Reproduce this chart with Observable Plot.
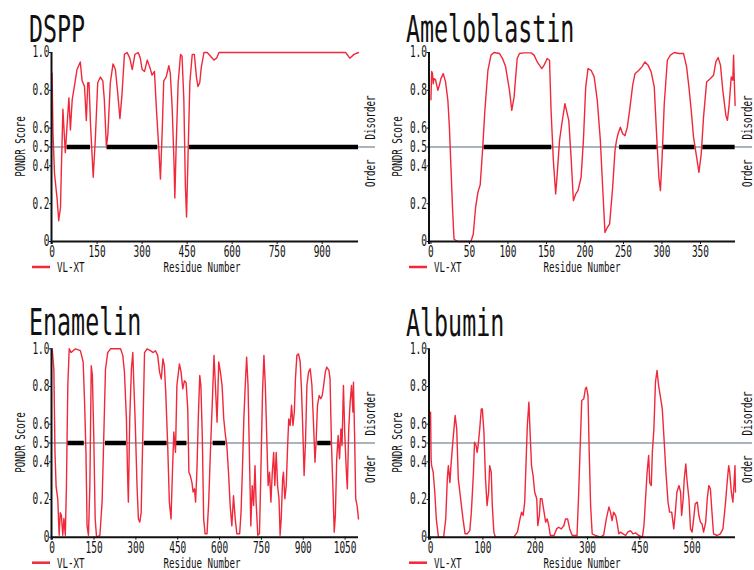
<!DOCTYPE html>
<html><head><meta charset="utf-8">
<script src="https://cdn.jsdelivr.net/npm/d3@7"></script>
<script src="https://cdn.jsdelivr.net/npm/@observablehq/plot@0.6"></script>
<style>
body{margin:0;background:#fff;}
#wrap{position:relative;width:754px;height:570px;background:#fff;overflow:hidden;}
.panel{position:absolute;width:377px;height:285px;}
</style></head><body><div id="wrap"></div>
<script>
// ---------- data ----------
const yTicks = [0, 0.2, 0.4, 0.5, 0.6, 0.8, 1.0];
const yLabels = ["0", "0.2", "0.4", "0.5", "0.6", "0.8", "1.0"];

const dsppTicks = [0, 150, 300, 450, 600, 750, 900];
const dsppTickLabels = ["0", "150", "300", "450", "600", "750", "900"];
const dsppRes = [0,3,8,17,22,28,31,36,44,48,56,61,67,74,83,94,100,108,114,119,123,128,137,144,152,161,169,174,181,186,194,203,211,219,226,233,241,250,259,267,276,287,294,300,308,317,326,333,341,348,356,361,367,372,380,389,394,400,406,409,413,420,428,433,439,444,448,452,459,467,474,481,486,492,497,506,517,528,539,548,556,978,992,1006,1021];
const dsppScore = [0.89,0.57,0.36,0.22,0.11,0.18,0.39,0.70,0.47,0.57,0.76,0.59,0.75,0.82,0.91,0.95,0.85,0.82,0.64,0.84,0.84,0.62,0.34,0.54,0.84,0.87,0.85,0.75,0.50,0.57,0.84,0.94,0.91,0.78,0.65,0.78,0.99,1.0,0.97,0.91,0.99,1.0,0.97,0.91,0.90,0.96,0.92,0.88,0.90,0.69,0.48,0.33,0.59,0.85,0.87,0.93,0.89,0.71,0.43,0.23,0.48,0.84,0.99,0.98,0.75,0.30,0.13,0.39,0.84,0.99,0.99,0.87,0.82,0.84,0.92,1.0,1.0,0.98,0.96,0.97,1.0,1.0,0.97,0.99,1.0];
const dsppBarStart = [50, 183, 458];
const dsppBarEnd = [128, 352, 1021];

const ameloTicks = [0, 50, 100, 150, 200, 250, 300, 350];
const ameloTickLabels = ["0", "50", "100", "150", "200", "250", "300", "350"];
const ameloRes = [0,1,2,3,4,6,9,11,13,16,19,22,24,26,28,30,35,52,55,58,61,64,67,70,74,78,82,89,93,97,102,105,108,112,115,121,130,134,138,144,147,151,154,156,159,162,164,167,170,174,176,179,182,185,188,191,195,198,201,204,208,212,216,220,223,226,229,232,236,239,241,243,246,249,252,255,258,262,265,270,274,278,282,286,290,293,296,298,300,303,307,311,316,322,328,332,335,338,341,345,348,351,354,358,363,367,370,373,376,379,383,385,387,390,392,393,394,395];
const ameloScore = [0.75,0.90,0.89,0.835,0.862,0.855,0.80,0.827,0.862,0.888,0.845,0.747,0.605,0.393,0.181,0.012,0,0,0.04,0.18,0.26,0.30,0.48,0.69,0.906,0.986,1.0,0.995,0.968,0.924,0.80,0.694,0.765,0.968,0.995,0.998,0.998,0.986,0.95,0.915,0.933,0.968,0.959,0.694,0.428,0.251,0.358,0.535,0.623,0.729,0.694,0.641,0.446,0.216,0.251,0.269,0.34,0.535,0.818,0.915,0.906,0.871,0.747,0.535,0.287,0.048,0.074,0.092,0.287,0.481,0.535,0.57,0.605,0.57,0.56,0.605,0.694,0.827,0.888,0.906,0.924,0.95,0.933,0.897,0.818,0.57,0.34,0.269,0.428,0.729,0.959,0.986,1.0,0.995,0.995,0.924,0.818,0.694,0.552,0.446,0.366,0.464,0.658,0.844,0.862,0.88,0.95,0.973,0.933,0.80,0.667,0.641,0.712,0.871,0.853,0.986,0.844,0.72];
const ameloBarStart = [69, 245, 302, 353];
const ameloBarEnd = [157, 294, 343, 395];

const enamTicks = [0, 150, 300, 450, 600, 750, 900, 1050];
const enamTickLabels = ["0", "150", "300", "450", "600", "750", "900", "1050"];
const enamRes = [0,6,10,14,20,25,29,33,38,42,47,51,56,61,68,75,84,101,111,116,121,125,130,135,140,144,149,154,159,171,179,185,191,199,209,245,253,259,266,270,273,278,284,289,292,298,304,309,314,319,326,331,340,352,362,370,378,385,391,397,402,407,414,420,426,431,436,442,447,456,462,468,474,480,486,490,495,501,505,510,514,519,524,529,533,538,543,548,555,561,567,574,580,585,591,597,603,609,615,621,626,632,638,644,650,656,662,672,677,682,687,692,697,702,708,712,717,722,727,731,737,743,748,754,759,764,770,774,779,784,789,794,798,803,808,813,817,821,826,829,834,839,844,848,853,858,863,868,872,877,883,889,894,899,903,908,913,919,925,931,937,942,946,951,957,963,968,973,979,984,992,996,1001,1006,1011,1015,1020,1025,1030,1035,1039,1044,1049,1054,1058,1063,1068,1073,1078,1080,1084,1088,1093,1098];
const enamScore = [1.0,0.89,0.45,0.27,0.20,0.01,0.13,0.115,0.01,0.10,0.01,0.27,0.805,1.0,0.98,0.99,1.0,0.99,0.93,0.72,0.45,0.06,0.01,0.27,0.91,0.86,0.54,0.10,0.0,0.01,0.19,0.54,0.89,0.98,1.0,1.0,0.965,0.876,0.63,0.345,0.186,0.63,0.894,0.98,0.84,0.593,0.274,0.097,0.08,0.13,0.63,0.98,1.0,0.99,0.98,0.99,0.965,0.876,0.84,0.947,0.91,0.77,0.487,0.186,0.097,0.345,0.558,0.45,0.805,0.92,0.876,0.788,0.83,0.82,0.68,0.345,0.327,0.29,0.24,0.257,0.186,0.363,0.646,0.858,0.805,0.54,0.097,0.018,0.018,0.186,0.45,0.717,0.965,0.805,0.61,0.93,0.876,0.805,0.628,0.54,0.487,0.345,0.168,0.06,0.22,0.097,0.018,0.018,0.133,0.363,0.628,0.805,0.956,0.805,0.363,0.06,0.274,0.168,0.38,0.186,0.01,0.018,0.345,0.77,0.965,0.805,0.487,0.274,0.345,0.186,0.345,0.45,0.274,0.45,0.274,0.204,0.01,0.097,0.31,0.345,0.204,0.274,0.487,0.628,0.593,0.70,0.593,0.664,0.84,0.965,0.973,0.93,0.77,0.54,0.327,0.504,0.805,0.876,0.894,0.805,0.593,0.398,0.504,0.70,0.752,0.735,0.752,0.805,0.876,0.903,0.885,0.84,0.50,0.274,0.027,0.115,0.416,0.54,0.416,0.575,0.487,0.805,0.54,0.363,0.257,0.575,0.717,0.805,0.664,0.823,0.54,0.204,0.168,0.097];
const enamBarStart = [55, 191, 330, 445, 577, 952];
const enamBarEnd = [115, 266, 412, 483, 622, 1000];

const albTicks = [0, 100, 200, 300, 400, 500];
const albTickLabels = ["0", "100", "200", "300", "450", "500"];
const albRes = [0,1,2,5,8,11,15,25,29,32,34,37,39,43,47,50,53,56,59,62,66,70,75,78,82,84,87,89,91,94,97,99,102,105,108,111,113,116,118,121,124,159,166,171,174,177,180,183,185,188,190,193,196,199,203,205,208,210,213,217,220,223,226,229,236,241,245,250,255,258,262,266,271,280,283,287,289,293,296,298,301,303,306,309,315,325,331,336,341,344,347,350,354,357,360,363,368,373,377,382,387,392,398,405,408,411,414,417,419,422,424,427,430,433,436,440,443,446,450,454,457,461,465,468,471,475,478,480,483,485,488,490,494,497,500,503,506,510,513,516,519,522,526,529,532,535,538,541,548,554,559,564,567,570,572,575,578,580,582,583];
const albScore = [0.664,0.416,0.38,0.345,0.24,0.097,0,0,0.097,0.31,0.38,0.29,0.38,0.522,0.646,0.575,0.31,0.24,0.168,0.097,0.018,0.018,0.035,0.133,0.345,0.504,0.487,0.45,0.487,0.575,0.681,0.681,0.558,0.31,0.168,0.24,0.38,0.345,0.168,0.027,0,0,0.027,0.097,0.133,0.115,0.186,0.434,0.593,0.717,0.575,0.38,0.327,0.24,0.204,0.062,0.115,0.204,0.204,0.133,0.08,0.097,0.062,0.009,0.009,0.044,0.053,0.044,0.062,0.097,0.097,0.044,0.009,0.009,0.221,0.558,0.726,0.735,0.788,0.796,0.752,0.487,0.168,0.018,0.009,0,0.012,0.097,0.16,0.133,0.088,0.133,0.115,0.07,0.018,0.027,0.018,0.009,0.027,0.035,0.018,0.023,0.009,0,0.062,0.204,0.345,0.434,0.29,0.274,0.45,0.575,0.823,0.885,0.805,0.735,0.681,0.54,0.345,0.186,0.133,0.133,0.044,0.133,0.24,0.274,0.24,0.115,0.204,0.31,0.389,0.31,0.204,0.044,0.027,0.097,0.177,0.186,0.115,0.08,0.07,0.027,0.08,0.204,0.274,0.257,0.133,0.018,0.009,0.018,0.044,0.186,0.29,0.38,0.345,0.24,0.186,0.274,0.38,0.24];
const albBarStart = [];
const albBarEnd = [];

// ---------- drawing ----------
const RED = "#f0283a";
const FONT = "'DejaVu Sans Mono', 'Liberation Mono', monospace";
const COND = 0.63;

const panels = [
  {title: "DSPP", left: 0, top: 0, res: dsppRes, score: dsppScore, bs: dsppBarStart, be: dsppBarEnd,
   ticks: dsppTicks, labels: dsppTickLabels, domain: [-2, 1021], mL: 51, mT: 52, mB: 44, titleY: 42, rnX: 202},
  {title: "Ameloblastin", left: 377, top: 0, res: ameloRes, score: ameloScore, bs: ameloBarStart, be: ameloBarEnd,
   ticks: ameloTicks, labels: ameloTickLabels, domain: [-2.5, 395.5], mL: 51.5, mT: 52, mB: 44, titleY: 42, rnX: 205},
  {title: "Enamelin", left: 0, top: 285, res: enamRes, score: enamScore, bs: enamBarStart, be: enamBarEnd,
   ticks: enamTicks, labels: enamTickLabels, domain: [-2.5, 1098], mL: 51, mT: 63.3, mB: 33.3, titleY: 50, rnX: 202},
  {title: "Albumin", left: 377, top: 285, res: albRes, score: albScore, bs: albBarStart, be: albBarEnd,
   ticks: albTicks, labels: albTickLabels, domain: [-3, 583], mL: 51.5, mT: 63.3, mB: 33.3, titleY: 51, rnX: 205}
];

const wrap = document.getElementById("wrap");
const yMap = new Map(yTicks.map((t, i) => [t, yLabels[i]]));

for (const p of panels) {
  const pts = p.res.map((r, i) => ({res: r, score: p.score[i]}));
  const bars = p.bs.map((s, i) => ({start: s, end: p.be[i]}));
  const xMap = new Map(p.ticks.map((t, i) => [t, p.labels[i]]));
  const W = 377, H = 285, mR = 19;
  const plot = Plot.plot({
    width: W, height: H,
    marginLeft: p.mL, marginRight: mR, marginTop: p.mT, marginBottom: p.mB,
    style: {fontFamily: FONT, fontSize: "15px", color: "#111", background: "transparent", overflow: "visible"},
    x: {domain: p.domain, ticks: p.ticks, tickFormat: d => xMap.get(d), tickSize: 3, tickPadding: 2, label: null},
    y: {domain: [0, 1], ticks: yTicks, tickFormat: d => yMap.get(d), tickSize: 2, tickPadding: 0, label: null},
    marks: [
      Plot.ruleY([0.5], {stroke: "#8d9ba8", strokeWidth: 1.5, insetRight: -17}),
      Plot.ruleY(bars, {x1: "start", x2: "end", y: 0.5, stroke: "#000", strokeWidth: 4.5}),
      Plot.line(pts, {x: "res", y: "score", stroke: RED, strokeWidth: 1.4}),
      Plot.ruleX([p.domain[0]], {stroke: "#111", strokeWidth: 2, insetBottom: -3}),
      Plot.ruleY([0], {stroke: "#111", strokeWidth: 2})
    ]
  });
  const div = document.createElement("div");
  div.className = "panel";
  div.style.left = p.left + "px";
  div.style.top = p.top + "px";
  div.appendChild(plot);
  wrap.appendChild(div);

  const ys = plot.scale("y");
  const y05 = ys.apply(0.5);
  const fTop = p.mT, fBot = H - p.mB;
  const svg = d3.select(plot);
  const g = svg.append("g").attr("fill", "#111").attr("font-family", FONT);

  g.append("text").attr("x", 29).attr("y", p.titleY).attr("text-anchor", "start")
    .attr("font-size", 37).text(p.title);
  g.append("text").attr("transform", `translate(20,${(fTop + fBot) / 2}) rotate(-90)`)
    .attr("text-anchor", "middle").attr("dy", "0.35em").attr("font-size", 14.5).text("PONDR Score");
  g.append("text").attr("transform", `translate(370,${y05 - 7}) rotate(-90)`)
    .attr("text-anchor", "start").attr("dy", "0.35em").attr("font-size", 14.5).text("Disorder");
  g.append("text").attr("transform", `translate(370,${y05 + 13}) rotate(-90)`)
    .attr("text-anchor", "end").attr("dy", "0.35em").attr("font-size", 14.5).text("Order");
  const ly = fBot + 26;
  g.append("line").attr("x1", 32).attr("x2", 50).attr("y1", ly).attr("y2", ly)
    .attr("stroke", RED).attr("stroke-width", 2.5);
  g.append("text").attr("x", 57).attr("y", ly).attr("dy", "0.35em").attr("text-anchor", "start")
    .attr("font-size", 14.5).text("VL-XT");
  g.append("text").attr("x", p.rnX).attr("y", ly).attr("dy", "0.35em").attr("text-anchor", "middle")
    .attr("font-size", 14.5).text("Residue Number");

  svg.selectAll("text").each(function () {
    const L = this.getComputedTextLength();
    if (L > 0) {
      this.setAttribute("textLength", (L * COND).toFixed(2));
      this.setAttribute("lengthAdjust", "spacingAndGlyphs");
    }
  });
}
</script></body></html>
